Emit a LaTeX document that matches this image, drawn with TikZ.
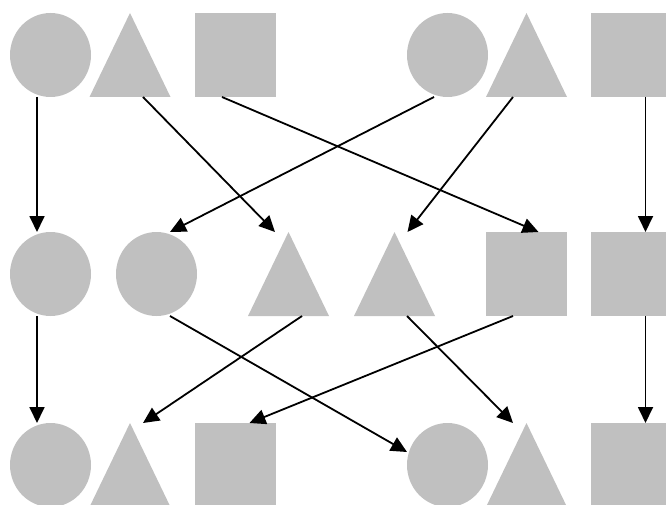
\documentclass[tikz,border=0pt]{standalone}
\usetikzlibrary{arrows.meta}
\definecolor{shapegray}{HTML}{C0C0C0}
\begin{document}
\begin{tikzpicture}[x=1pt,y=-1pt,
  box/.style={rectangle, inner sep=0pt, outer sep=0pt, minimum width=81pt, minimum height=84pt},
  circ/.style={box, path picture={\fill[shapegray] (path picture bounding box.center) ellipse [x radius=40.5pt, y radius=42pt];}},
  tri/.style={box, path picture={\fill[shapegray] (path picture bounding box.south west) -- (path picture bounding box.north) -- (path picture bounding box.south east) -- cycle;}},
  sq/.style={box, fill=shapegray},
  link/.style={line width=1.8pt, -{Triangle[length=16pt,width=15pt]}}]
\useasboundingbox (0,0) rectangle (666,505);
\clip (0,0) rectangle (666,505);
% top row
\node[circ] (tc1) at (50.5,55) {};
\node[tri]  (tt1) at (130,55) {};
\node[sq]   (ts1) at (235.5,55) {};
\node[circ] (tc2) at (447.5,55) {};
\node[tri]  (tt2) at (526.5,55) {};
\node[sq]   (ts2) at (631.5,55) {};
% middle row
\node[circ] (mc1) at (50.5,274) {};
\node[circ] (mc2) at (156.5,274) {};
\node[tri]  (mt1) at (288.5,274) {};
\node[tri]  (mt2) at (394.5,274) {};
\node[sq]   (ms1) at (526.5,274) {};
\node[sq]   (ms2) at (631.5,274) {};
% bottom row
\node[circ] (bc1) at (50.5,465) {};
\node[tri]  (bt1) at (130,465) {};
\node[sq]   (bs1) at (235.5,465) {};
\node[circ] (bc2) at (447.5,465) {};
\node[tri]  (bt2) at (526.5,465) {};
\node[sq]   (bs2) at (631.5,465) {};
% top -> middle
\draw[link] ([xshift=-13.5pt]tc1.south) -- ([xshift=-13.5pt]mc1.north);
\draw[link] ([xshift=13pt]tt1.south) -- ([xshift=-13.5pt]mt1.north);
\draw[link] ([xshift=-13.5pt]ts1.south) -- ([xshift=12pt]ms1.north);
\draw[link] ([xshift=-13.5pt]tc2.south) -- ([xshift=13.5pt]mc2.north);
\draw[link] ([xshift=-13.5pt]tt2.south) -- ([xshift=13pt]mt2.north);
\draw[link] ([xshift=14pt]ts2.south) -- ([xshift=14pt]ms2.north);
% middle -> bottom
\draw[link] ([xshift=-13.5pt]mc1.south) -- ([xshift=-13.5pt]bc1.north);
\draw[link] ([xshift=13.5pt]mc2.south) -- ([yshift=13pt]bc2.west);
\draw[link] ([xshift=13.5pt]mt1.south) -- ([xshift=13pt]bt1.north);
\draw[link] ([xshift=12.5pt]mt2.south) -- ([xshift=-13.5pt]bt2.north);
\draw[link] ([xshift=-13.5pt]ms1.south) -- ([xshift=14pt]bs1.north);
\draw[link] ([xshift=14pt]ms2.south) -- ([xshift=14pt]bs2.north);
\end{tikzpicture}
\end{document}
